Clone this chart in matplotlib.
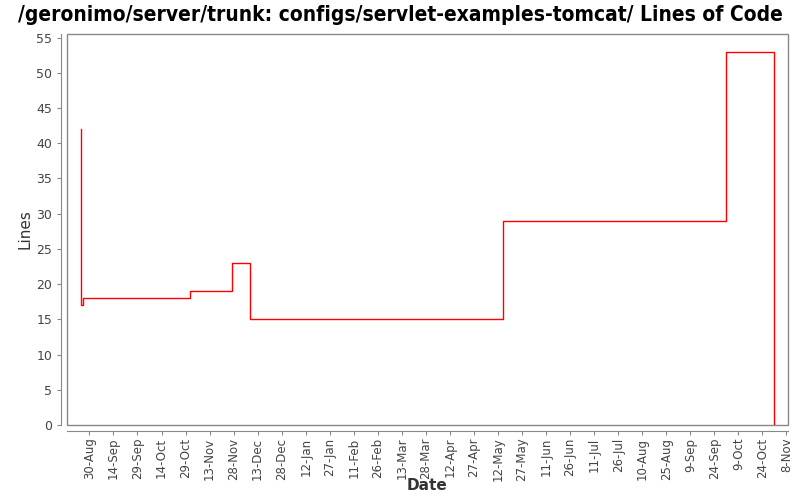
import numpy as np
import pandas as pd
import matplotlib
matplotlib.use("Agg")
import matplotlib.pyplot as plt
import matplotlib.dates as mdates
from matplotlib.patches import Rectangle

# step points (date, lines)
dates = ["2005-08-25", "2005-08-25", "2005-08-26", "2005-11-01", "2005-11-27",
         "2005-12-08", "2006-05-15", "2006-10-01", "2006-10-31", "2006-10-31"]
lines = [42, 17, 18, 19, 23, 15, 29, 53, 53, 0]

tick_start = "2005-08-30"
tick_end = "2006-11-08"
x_min, x_max = "2005-08-16", "2006-11-09"

x = pd.to_datetime(dates)

fig = plt.figure(figsize=(8, 5), dpi=100)
ax = fig.add_axes([67 / 800, 75 / 500, 721 / 800, 391 / 500])

ax.step(x, lines, where="post", color="red", linewidth=1)

ax.set_xlim(pd.Timestamp(x_min), pd.Timestamp(x_max))
ax.set_ylim(0, 55.5)
ax.set_yticks(range(0, 56, 5))

ticks = pd.date_range(tick_start, tick_end, freq="15D")
ax.set_xticks(ticks)
ax.set_xticklabels([f"{d.day}-{d.strftime('%b')}" for d in ticks])

for s in ax.spines.values():
    s.set_color("#888888")
ax.spines["top"].set_visible(False)
ax.spines["right"].set_visible(False)
ax.spines["left"].set_position(("outward", 4))
ax.spines["bottom"].set_position(("outward", 4))
ax.add_patch(Rectangle((0, 0), 1, 1, transform=ax.transAxes, fill=False,
                       edgecolor="#888888", linewidth=1, clip_on=False))

ax.tick_params(colors="#888888", labelcolor="#444444", labelsize=9, length=3)
ax.tick_params(axis="x", labelrotation=90, labelsize=8.5, pad=2)
ax.set_xlabel("Date", fontsize=11, color="#333333", fontweight="bold")
ax.set_ylabel("Lines", fontsize=11, color="#333333")
ax.xaxis.set_label_coords(0.5, -0.135)
ax.yaxis.set_label_coords(-0.048, 0.5)

fig.suptitle("/geronimo/server/trunk: configs/servlet-examples-tomcat/ Lines of Code",
             y=0.99, fontsize=15, fontweight="bold", stretch="condensed",
             family=["DejaVu Sans"])

fig.savefig("out.png", dpi=100)
